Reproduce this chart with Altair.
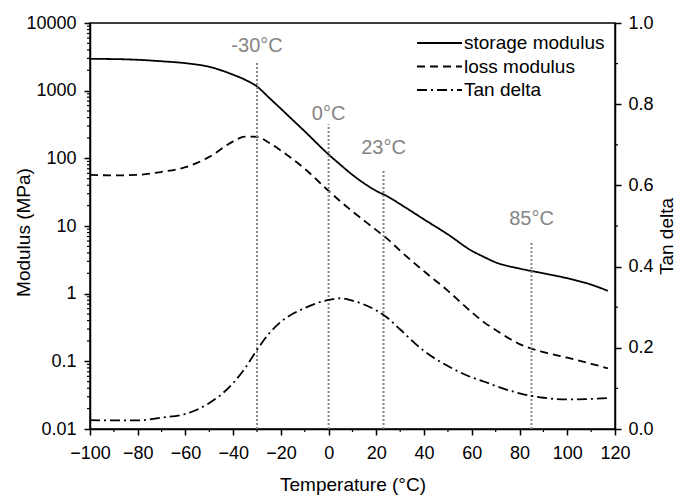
import altair as alt
import pandas as pd

# Dynamic mechanical analysis sweep
temps = [-100, -90, -80, -70, -60, -50, -40, -35, -30, -25, -20, -10, 0, 5, 10, 20,
         25, 30, 40, 50, 60, 65, 70, 80, 90, 100, 110, 117]
storage_modulus = [2950, 2930, 2860, 2720, 2550, 2250, 1720, 1450, 1150, 790, 540,
                   250, 114, 80, 57, 33, 27, 21, 12.5, 7.5, 4.3, 3.5, 2.9, 2.35, 2.0,
                   1.69, 1.36, 1.1]
loss_modulus = [57, 56, 57, 63, 74, 105, 178, 210, 208, 170, 130, 70, 33, 23, 16.4,
                8.7, 6.3, 4.3, 2.14, 1.1, 0.53, 0.38, 0.29, 0.18, 0.137, 0.113,
                0.092, 0.079]
tan_delta = [0.022, 0.021, 0.021, 0.028, 0.037, 0.064, 0.113, 0.150, 0.195, 0.235,
             0.264, 0.298, 0.318, 0.322, 0.316, 0.292, 0.272, 0.245, 0.192, 0.155,
             0.127, 0.117, 0.106, 0.088, 0.077, 0.073, 0.074, 0.076]
series_names = ["storage modulus", "loss modulus", "Tan delta"]
series_dashes = [[1, 0], [8, 5], [10, 4, 2, 4]]

# Reference temperatures marked with dotted lines
mark_temps = [-30, 0, 23, 85]
mark_labels = ["-30°C", "0°C", "23°C", "85°C"]
mark_tops = [2650, 320, 67, 5.8]           # upper end of each dotted line (MPa)
mark_label_levels = [3770, 369, 116, 10.4]  # baseline of each label (MPa)

x_major = list(range(-100, 121, 20))
x_minor = list(range(-90, 120, 20))
mod_major = [0.01, 0.1, 1, 10, 100, 1000, 10000]
mod_minor = [m * 10.0 ** e for e in range(-2, 4) for m in range(2, 10)]
tan_major = [0.0, 0.2, 0.4, 0.6, 0.8, 1.0]
tan_minor = [0.1, 0.3, 0.5, 0.7, 0.9]

FONT = "Liberation Sans"
GRAY = "#858585"
W, H = 525, 406

n = len(temps)
moduli = pd.DataFrame({
    "T": temps * 2,
    "v": storage_modulus + loss_modulus,
    "series": [series_names[0]] * n + [series_names[1]] * n,
})
tan_df = pd.DataFrame({"T": temps, "v": tan_delta, "series": series_names[2]})
markers = pd.DataFrame({
    "T": mark_temps, "label": mark_labels, "top": mark_tops,
    "level": mark_label_levels, "bottom": 0.01,
})

x_scale = alt.Scale(domain=[-100, 120], nice=False, zero=False)
mod_scale = alt.Scale(type="log", domain=[0.01, 10000], nice=False)
tan_scale = alt.Scale(domain=[0, 1], nice=False, zero=False)
dash_scale = alt.Scale(domain=series_names, range=series_dashes)

x_axis = alt.Axis(values=x_major, orient="bottom", title="Temperature (°C)",
                  tickSize=6, labelPadding=9, labelOverlap=False, labelFlush=False,
                  titleBaseline="alphabetic", titleY=61, titleX=W / 2)
mod_axis = alt.Axis(values=mod_major, orient="left", format="~g",
                    title="Modulus (MPa)", tickSize=6, labelPadding=8,
                    labelOverlap=False, labelFlush=False,
                    titleAngle=270, titleBaseline="alphabetic",
                    titleX=-61, titleY=209)
tan_axis = alt.Axis(values=tan_major, orient="right", format=".1f",
                    title="Tan delta", tickSize=6, labelPadding=7,
                    labelOverlap=False, labelFlush=False,
                    titleAngle=270, titleBaseline="alphabetic",
                    titleX=57, titleY=213)

x_main = alt.X("T:Q", scale=x_scale, axis=x_axis)
mod_y = lambda field: alt.Y(field, scale=mod_scale, axis=mod_axis)
tan_y = lambda field: alt.Y(field, scale=tan_scale, axis=tan_axis)
dash = alt.StrokeDash("series:N", scale=dash_scale, legend=None)

modulus_lines = alt.Chart(moduli).mark_line(
    color="black", strokeWidth=1.8, interpolate="monotone"
).encode(
    x=x_main, y=mod_y("v:Q"), strokeDash=dash, detail="series:N",
)

marker_rules = alt.Chart(markers).mark_rule(
    color=GRAY, strokeWidth=2, strokeDash=[2, 2]
).encode(
    x=x_main, y=mod_y("bottom:Q"), y2="top:Q",
)

marker_text = alt.Chart(markers).mark_text(
    color=GRAY, fontSize=20, font=FONT, align="center", baseline="alphabetic"
).encode(
    x=x_main, y=mod_y("level:Q"), text="label:N",
)

# Minor ticks: short outward strokes placed through the axis scales
mod_minor_ticks = alt.Chart(pd.DataFrame({"v": mod_minor})).mark_rule(
    color="black", strokeWidth=1.2
).encode(
    y=mod_y("v:Q"), x=alt.value(-3), x2=alt.value(0),
)
x_minor_ticks = alt.Chart(pd.DataFrame({"T": x_minor})).mark_rule(
    color="black", strokeWidth=1.2
).encode(
    x=x_main, y=alt.value(H), y2=alt.value(H + 3),
)

left = alt.layer(modulus_lines, marker_rules, marker_text,
                 mod_minor_ticks, x_minor_ticks)

tan_line = alt.Chart(tan_df).mark_line(
    color="black", strokeWidth=1.8, interpolate="monotone"
).encode(
    x=x_main, y=tan_y("v:Q"), strokeDash=dash,
)
tan_minor_ticks = alt.Chart(pd.DataFrame({"v": tan_minor})).mark_rule(
    color="black", strokeWidth=1.2
).encode(
    y=tan_y("v:Q"), x=alt.value(W), x2=alt.value(W + 3),
)
right = alt.layer(tan_line, tan_minor_ticks)

# Key in the upper right of the plot
legend_layers = []
for i, (name, pattern) in enumerate(zip(series_names, series_dashes)):
    row_y = 20 + i * 23.5
    legend_layers.append(
        alt.Chart(pd.DataFrame({"series": [name]})).mark_rule(
            color="black", strokeWidth=1.8, strokeDash=pattern
        ).encode(x=alt.value(327), x2=alt.value(372), y=alt.value(row_y))
    )
    legend_layers.append(
        alt.Chart(pd.DataFrame({"series": [name]})).mark_text(
            font=FONT, fontSize=19, color="black", align="left", baseline="middle"
        ).encode(x=alt.value(374), y=alt.value(row_y), text="series:N")
    )
key = alt.layer(*legend_layers)

chart = alt.layer(left, right, key).resolve_scale(
    y="independent"
).properties(
    width=W, height=H,
    autosize=alt.AutoSizeParams(type="none"),
    padding={"left": 90, "top": 23, "right": 64, "bottom": 67},
    background="white",
).configure_view(
    stroke="black", strokeWidth=1.5
).configure_axis(
    domainColor="black", domainWidth=1.5, tickColor="black", tickWidth=1.5,
    labelColor="black", labelFont=FONT, labelFontSize=18,
    titleColor="black", titleFont=FONT, titleFontSize=19, titleFontWeight="normal",
    grid=False,
)

chart.save("out.html", embed_options={"renderer": "svg", "actions": False})
